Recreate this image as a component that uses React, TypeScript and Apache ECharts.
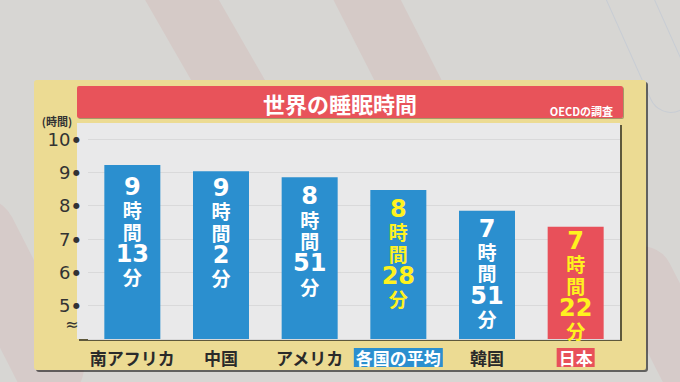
import React, { useEffect, useRef } from "react";
import * as echarts from "echarts";

const categories = ["南アフリカ", "中国", "アメリカ", "各国の平均", "韓国", "日本"];
const hours = [9, 9, 8, 8, 7, 7];
const minutes = [13, 2, 51, 28, 51, 22];
const yTicks = [4, 5, 6, 7, 8, 9, 10];
// label gap from bar top (style)
const labelGaps = [10, 5, 7, 7, 6, 2];

const BLUE = "#2b8fcf";
const RED = "#e8505a";
const YELLOW = "#fff21f";
const FONT = "'Noto Sans CJK JP', 'Noto Sans', sans-serif";
const NUMFONT = "'DejaVu Sans', sans-serif";

export default function App() {
  const ref = useRef<HTMLDivElement>(null);
  useEffect(() => {
    const chart = echarts.init(ref.current!, null, { renderer: "svg" });
    const data = categories.map((c, i) => {
      const isJapan = c === "日本";
      const isAvg = c === "各国の平均";
      const col = isJapan || isAvg ? YELLOW : "#ffffff";
      return {
        value: hours[i] + minutes[i] / 60,
        itemStyle: { color: isJapan ? RED : BLUE },
        label: {
          show: true,
          position: "insideTop",
          distance: labelGaps[i],
          formatter: `{n|${hours[i]}}\n{k|時}\n{k|間}\n{n|${minutes[i]}}\n{k|分}`,
          rich: {
            n: { fontSize: 24, fontWeight: "bold", color: col, lineHeight: 24, fontFamily: NUMFONT },
            k: { fontSize: 19, fontWeight: "bold", color: col, lineHeight: 21.5, fontFamily: FONT },
          },
        },
      };
    });
    chart.setOption({
      animation: false,
      backgroundColor: "#d7d6d3",
      textStyle: { fontFamily: FONT },
      graphic: [
        // decorative background shapes
        { type: "rect", x: 205, y: 40, rotation: -1.05, shape: { x: -120, y: -32, width: 240, height: 64, r: 32 }, style: { fill: "#d5cac7" }, z: -10 },
        { type: "rect", x: 385, y: 35, rotation: -1.1, shape: { x: -110, y: -30, width: 220, height: 60, r: 30 }, style: { fill: "#d5cac7" }, z: -10 },
        { type: "rect", x: 15, y: 300, rotation: -1.1, shape: { x: -110, y: -35, width: 220, height: 70, r: 35 }, style: { fill: "#d6cbc9" }, z: -10 },
        { type: "rect", x: 670, y: 330, rotation: -1.1, shape: { x: -90, y: -30, width: 180, height: 60, r: 30 }, style: { fill: "#d6cbc9" }, z: -10 },
        { type: "rect", x: 635, y: 10, rotation: -1.15, shape: { x: -110, y: -22, width: 220, height: 44, r: 22 }, style: { fill: "none", stroke: "#c8cdd4", lineWidth: 1 }, z: -10 },
        // yellow panel
        { type: "rect", shape: { x: 34, y: 80, width: 612, height: 290, r: 3 }, style: { fill: "#ecdb93", shadowColor: "rgba(0,0,0,0.55)", shadowOffsetX: 2, shadowOffsetY: 2, shadowBlur: 1 }, z: -5 },
        // title bar
        { type: "rect", shape: { x: 77, y: 86, width: 546, height: 32, r: 2 }, style: { fill: "#e8525a", shadowColor: "rgba(0,0,0,0.3)", shadowOffsetX: 1, shadowOffsetY: 1, shadowBlur: 1 }, z: -4 },
        { type: "text", x: 340, y: 103, style: { text: "世界の睡眠時間", fill: "#fff", fontSize: 22, fontWeight: "bold", fontFamily: FONT, textAlign: "center", textVerticalAlign: "middle" }, z: 5 },
        { type: "text", x: 613, y: 111, style: { text: "OECDの調査", fill: "#fff", fontSize: 11, fontWeight: "bold", fontFamily: FONT, textAlign: "right", textVerticalAlign: "middle" }, z: 5 },
        // plot background
        { type: "rect", shape: { x: 77, y: 123, width: 543, height: 216 }, style: { fill: "#e9e9ea", shadowColor: "rgba(0,0,0,0.6)", shadowOffsetX: 2, shadowOffsetY: 2, shadowBlur: 1 }, z: -4 },
        { type: "text", x: 57, y: 121, style: { text: "(時間)", fill: "#333", fontSize: 11, fontWeight: "bold", fontFamily: FONT, textAlign: "center", textVerticalAlign: "middle" }, z: 5 },
        { type: "text", x: 72, y: 324, style: { text: "≈", fill: "#333", fontSize: 16, fontFamily: "DejaVu Sans", textAlign: "center", textVerticalAlign: "middle" }, z: 5 },
      ],
      grid: { left: 88, right: 60, top: 139, bottom: 43 },
      xAxis: {
        type: "category",
        data: categories,
        axisLine: { show: false },
        axisTick: { show: false },
        axisLabel: {
          interval: 0,
          margin: 9,
          formatter: (v: string) => (v === "各国の平均" ? `{a|${v}}` : v === "日本" ? `{j|${v}}` : `{p|${v}}`),
          rich: {
            p: { fontSize: 17, fontWeight: "bold", color: "#2a2a2a", fontFamily: FONT, padding: [1, 2] },
            a: { fontSize: 17, fontWeight: "bold", color: "#fff", backgroundColor: BLUE, fontFamily: FONT, padding: [1, 2] },
            j: { fontSize: 17, fontWeight: "bold", color: "#fff", backgroundColor: RED, fontFamily: FONT, padding: [1, 2] },
          },
        },
      },
      yAxis: {
        type: "value",
        min: yTicks[0],
        max: yTicks[yTicks.length - 1],
        interval: 1,
        offset: 11,
        axisLine: { show: false },
        axisTick: { show: false },
        splitLine: { show: true, lineStyle: { color: "#d9d9da", width: 1 } },
        axisLabel: {
          margin: -3,
          formatter: (v: number) => (v === yTicks[0] ? "" : `{v|${v}} {d|●}`),
          rich: {
            v: { fontSize: 18, color: "#333", fontFamily: NUMFONT },
            d: { fontSize: 8, color: "#333", fontFamily: NUMFONT },
          },
        },
      },
      series: [
        {
          type: "bar",
          data,
          barWidth: 56,
        },
      ],
    });
    return () => chart.dispose();
  }, []);
  return <div ref={ref} style={{ position: "fixed", left: 0, top: 0, width: 680, height: 382 }} />;
}
